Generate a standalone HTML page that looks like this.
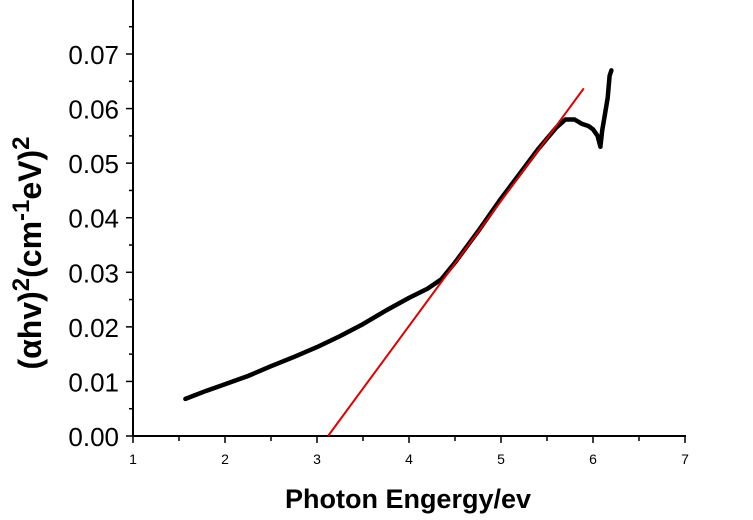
<!DOCTYPE html>
<html><head><meta charset="utf-8"><style>
body{margin:0;background:#fff}
svg{display:block;font-family:"Liberation Sans",Arial,sans-serif}
</style></head><body>
<svg id="chart" width="753" height="520"></svg>
<script>
const xTicks=[1,2,3,4,5,6,7];
const yTicks=[0,0.01,0.02,0.03,0.04,0.05,0.06,0.07];
const yTickLabels=["0.00","0.01","0.02","0.03","0.04","0.05","0.06","0.07"];
const dataX=[1.57,1.8,2.0,2.25,2.5,2.75,3.0,3.25,3.5,3.75,4.0,4.2,4.35,4.5,4.75,5.0,5.2,5.4,5.5,5.6,5.7,5.8,5.88,5.95,6.0,6.05,6.08,6.1,6.13,6.16,6.18,6.2];
const dataY=[0.0068,0.0083,0.0095,0.011,0.0128,0.0145,0.0163,0.0183,0.0205,0.023,0.0253,0.027,0.0287,0.0318,0.0375,0.0435,0.048,0.0525,0.0545,0.0565,0.058,0.058,0.0572,0.0568,0.0562,0.055,0.053,0.056,0.059,0.062,0.066,0.067];
const fitX=[3.12,5.9];
const fitY=[0,0.0637];
const NS="http://www.w3.org/2000/svg";
const svg=document.getElementById('chart');
const X=v=>133+(v-1)*92;
const Y=v=>436-v*5457;
function mk(t,a,txt){const e=document.createElementNS(NS,t);for(const k in a)e.setAttribute(k,a[k]);if(txt!==undefined)e.textContent=txt;svg.appendChild(e);return e;}
let e=mk('line',{x1:133,y1:436,x2:686,y2:436,stroke:'#000','stroke-width':2});


e=mk('line',{x1:133,y1:436,x2:133,y2:0,stroke:'#000','stroke-width':2});


xTicks.forEach((v,i)=>{
  let t=mk('line',{x1:X(v),y1:436,x2:X(v),y2:443,stroke:'#000','stroke-width':1.5});
  
  
  if(i<xTicks.length-1){let m=mk('line',{x1:X(v+0.5),y1:436,x2:X(v+0.5),y2:441,stroke:'#000','stroke-width':1.5});
  
  }
  let l=mk('text',{x:X(v),y:464,'text-anchor':'middle','font-size':14},String(v));
  
  
});
yTicks.forEach((v,i)=>{
  let t=mk('line',{x1:126,y1:Y(v),x2:133,y2:Y(v),stroke:'#000','stroke-width':1.5});
  
  
  let m=mk('line',{x1:129,y1:Y(v+0.005),x2:133,y2:Y(v+0.005),stroke:'#000','stroke-width':1.5});
  
  
  let l=mk('text',{x:119,y:Y(v)+10,'text-anchor':'end','font-size':26},yTickLabels[i]);
  
  
});
let d=dataX.map((v,i)=>(i?'L':'M')+X(v).toFixed(1)+' '+Y(dataY[i]).toFixed(1)).join(' ');
e=mk('path',{d:d,fill:'none',stroke:'#000','stroke-width':4.5,'stroke-linejoin':'round','stroke-linecap':'round'});


e=mk('line',{x1:X(fitX[0]),y1:Y(fitY[0]),x2:X(fitX[1]),y2:Y(fitY[1]),stroke:'#e00000','stroke-width':2});


e=mk('text',{x:408,y:508,'text-anchor':'middle','font-size':27,'font-weight':'bold'},'Photon Engergy/ev');


e=mk('text',{transform:'translate(41,253) rotate(-90)','text-anchor':'middle','font-size':32,'font-weight':'bold'});
e.innerHTML='(αhv)<tspan dy="-12" font-size="24">2</tspan><tspan dy="12">(cm</tspan><tspan dy="-12" font-size="24">-1</tspan><tspan dy="12">eV)</tspan><tspan dy="-12" font-size="24">2</tspan>';


</script>
</body></html>
